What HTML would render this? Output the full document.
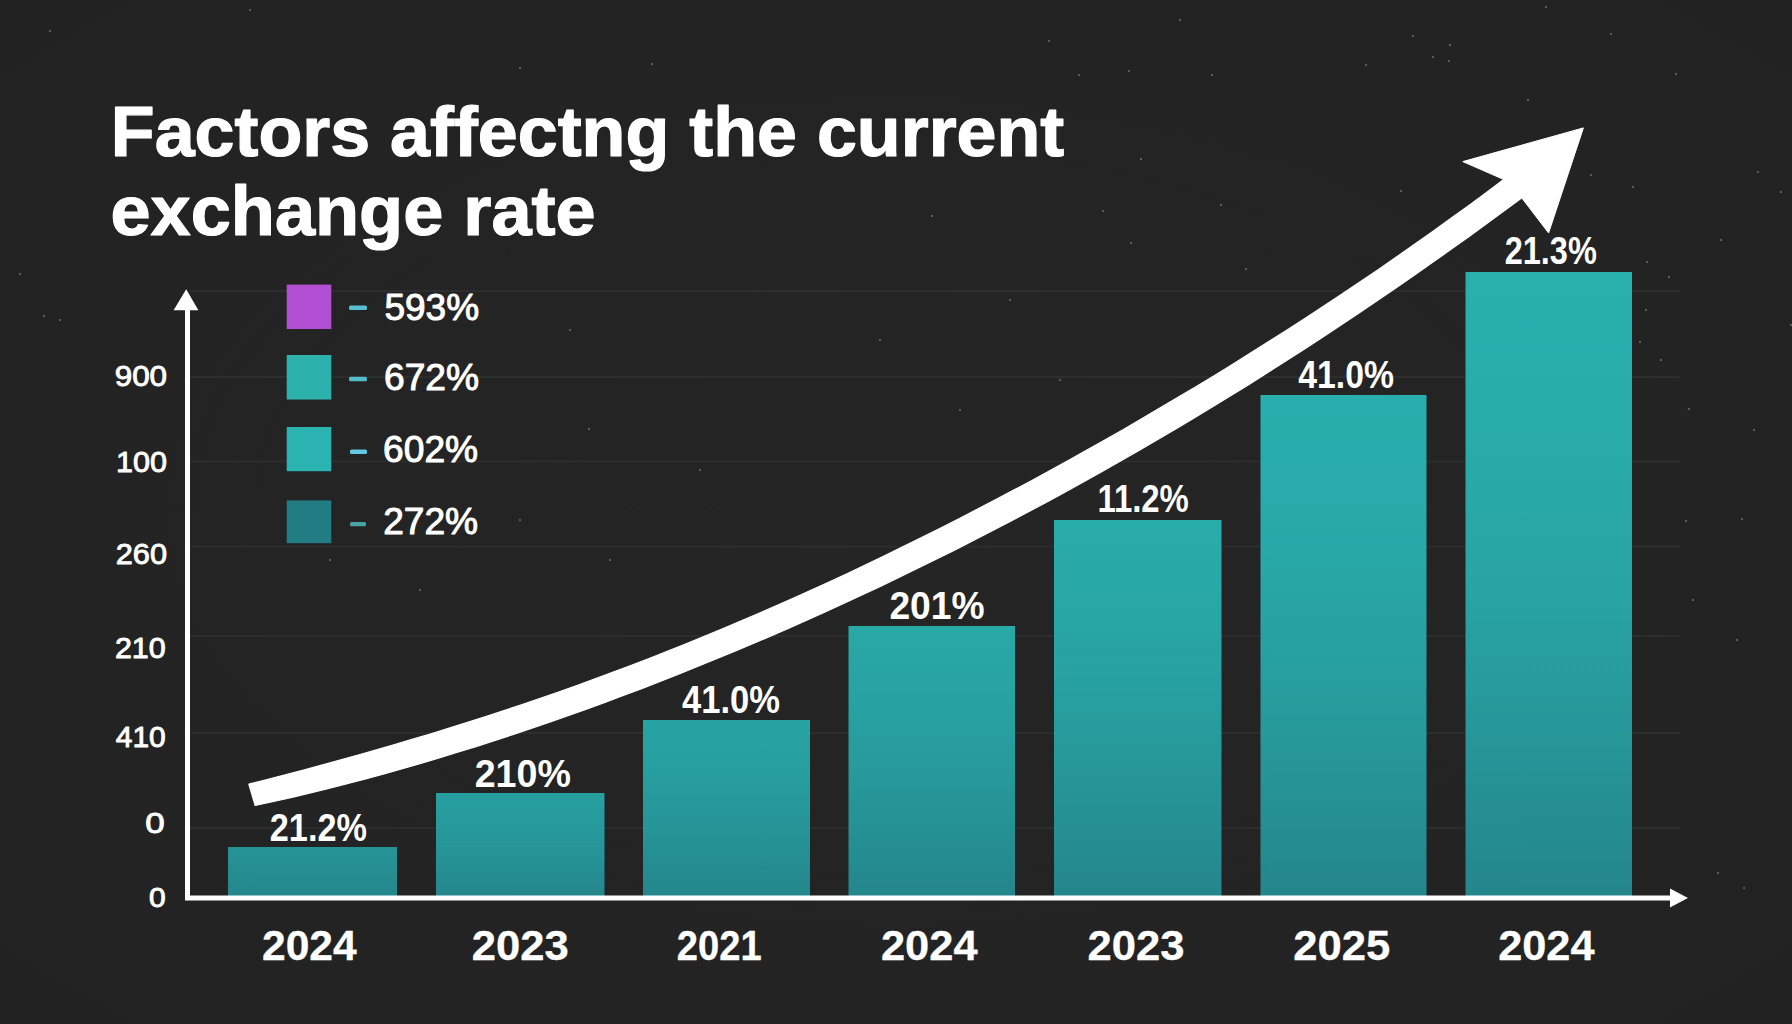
<!DOCTYPE html>
<html lang="en">
<head>
<meta charset="utf-8">
<title>Factors affecting the current exchange rate</title>
<style>
  html, body { margin: 0; padding: 0; background: #242424; }
  body { width: 1792px; height: 1024px; overflow: hidden; font-family: "Liberation Sans", sans-serif; }
  svg { display: block; position: absolute; left: 0; top: 0; }
  text { font-family: "Liberation Sans", sans-serif; fill: #ffffff; stroke-linejoin: round; }
  .grid line { stroke: #2c2d2d; stroke-width: 1.8; }
</style>
</head>
<body>
<svg width="1792" height="1024" viewBox="0 0 1792 1024">
  <defs>
    <radialGradient id="bg" cx="50%" cy="50%" r="75%">
      <stop offset="0" stop-color="#252525"/>
      <stop offset="1" stop-color="#222222"/>
    </radialGradient>
    <linearGradient id="g1" x1="0" y1="0" x2="0" y2="1"><stop offset="0" stop-color="#259396"/><stop offset="0.25" stop-color="#259194"/><stop offset="0.5" stop-color="#258e92"/><stop offset="0.75" stop-color="#258a8f"/><stop offset="1" stop-color="#24868c"/></linearGradient>
    <linearGradient id="g2" x1="0" y1="0" x2="0" y2="1"><stop offset="0" stop-color="#279fa0"/><stop offset="0.25" stop-color="#269b9d"/><stop offset="0.5" stop-color="#269699"/><stop offset="0.75" stop-color="#258f93"/><stop offset="1" stop-color="#24868c"/></linearGradient>
    <linearGradient id="g3" x1="0" y1="0" x2="0" y2="1"><stop offset="0" stop-color="#27a3a3"/><stop offset="0.25" stop-color="#279fa0"/><stop offset="0.5" stop-color="#26989b"/><stop offset="0.75" stop-color="#259094"/><stop offset="1" stop-color="#24868c"/></linearGradient>
    <linearGradient id="g4" x1="0" y1="0" x2="0" y2="1"><stop offset="0" stop-color="#28a8a6"/><stop offset="0.25" stop-color="#27a3a3"/><stop offset="0.5" stop-color="#279b9d"/><stop offset="0.75" stop-color="#259195"/><stop offset="1" stop-color="#24868c"/></linearGradient>
    <linearGradient id="g5" x1="0" y1="0" x2="0" y2="1"><stop offset="0" stop-color="#28acaa"/><stop offset="0.25" stop-color="#28a6a6"/><stop offset="0.5" stop-color="#279e9f"/><stop offset="0.75" stop-color="#269396"/><stop offset="1" stop-color="#24868c"/></linearGradient>
    <linearGradient id="g6" x1="0" y1="0" x2="0" y2="1"><stop offset="0" stop-color="#28aeac"/><stop offset="0.25" stop-color="#28aaa9"/><stop offset="0.5" stop-color="#27a1a2"/><stop offset="0.75" stop-color="#269597"/><stop offset="1" stop-color="#24868c"/></linearGradient>
    <linearGradient id="g7" x1="0" y1="0" x2="0" y2="1"><stop offset="0" stop-color="#28b0ad"/><stop offset="0.25" stop-color="#28acaa"/><stop offset="0.5" stop-color="#28a4a4"/><stop offset="0.75" stop-color="#269699"/><stop offset="1" stop-color="#24868c"/></linearGradient>
  </defs>
  <rect x="0" y="0" width="1792" height="1024" fill="url(#bg)"/>
  <g class="grid">
    <line x1="190" y1="291" x2="1680" y2="291"/>
    <line x1="190" y1="377" x2="1680" y2="377"/>
    <line x1="190" y1="461.5" x2="1680" y2="461.5"/>
    <line x1="190" y1="546.5" x2="1680" y2="546.5"/>
    <line x1="190" y1="636" x2="1680" y2="636"/>
    <line x1="190" y1="733" x2="1680" y2="733"/>
    <line x1="190" y1="828" x2="1680" y2="828"/>
  </g>
  <g fill="#6b6b6b"><circle cx="1546" cy="7" r="1.1"/><circle cx="1413" cy="36" r="1.1"/><circle cx="1611" cy="34" r="1.1"/><circle cx="1212" cy="75" r="1.1"/><circle cx="1366" cy="65" r="1.1"/><circle cx="1676" cy="74" r="1.1"/><circle cx="1528" cy="100" r="1.1"/><circle cx="1591" cy="175" r="1.1"/><circle cx="1633" cy="187" r="1.1"/><circle cx="1758" cy="172" r="1.1"/><circle cx="932" cy="216" r="1.1"/><circle cx="1103" cy="211" r="1.1"/><circle cx="1141" cy="159" r="1.1"/><circle cx="1131" cy="243" r="1.1"/><circle cx="1246" cy="269" r="1.1"/><circle cx="1221" cy="205" r="1.1"/><circle cx="1401" cy="191" r="1.1"/><circle cx="1721" cy="240" r="1.1"/><circle cx="1781" cy="192" r="1.1"/><circle cx="1646" cy="310" r="1.1"/><circle cx="1791" cy="325" r="1.1"/><circle cx="50" cy="31" r="1.1"/><circle cx="60" cy="320" r="1.1"/><circle cx="20" cy="274" r="1.1"/><circle cx="44" cy="316" r="1.1"/><circle cx="589" cy="429" r="1.1"/><circle cx="570" cy="330" r="1.1"/><circle cx="1049" cy="41" r="1.1"/><circle cx="1079" cy="75" r="1.1"/><circle cx="1129" cy="71" r="1.1"/><circle cx="1450" cy="45" r="1.1"/><circle cx="1449" cy="61" r="1.1"/><circle cx="1433" cy="57" r="1.1"/><circle cx="1742" cy="519" r="1.1"/><circle cx="1754" cy="430" r="1.1"/><circle cx="1686" cy="521" r="1.1"/><circle cx="1647" cy="262" r="1.1"/><circle cx="1669" cy="277" r="1.1"/><circle cx="1640" cy="342" r="1.1"/><circle cx="1661" cy="360" r="1.1"/><circle cx="1689" cy="409" r="1.1"/><circle cx="1693" cy="600" r="1.1"/><circle cx="1737" cy="640" r="1.1"/><circle cx="1718" cy="873" r="1.1"/><circle cx="1744" cy="888" r="1.1"/><circle cx="310" cy="505" r="1.1"/><circle cx="330" cy="560" r="1.1"/><circle cx="420" cy="590" r="1.1"/><circle cx="520" cy="520" r="1.1"/><circle cx="610" cy="560" r="1.1"/><circle cx="700" cy="470" r="1.1"/><circle cx="880" cy="340" r="1.1"/><circle cx="960" cy="410" r="1.1"/><circle cx="1010" cy="300" r="1.1"/><circle cx="1060" cy="380" r="1.1"/><circle cx="770" cy="150" r="1.1"/><circle cx="1180" cy="20" r="1.1"/><circle cx="250" cy="10" r="1.1"/><circle cx="652" cy="64" r="1.1"/><circle cx="520" cy="68" r="1.1"/></g>
  <g>
    <text x="110.80" y="156" font-size="70" font-weight="bold" textLength="953.48" lengthAdjust="spacingAndGlyphs" stroke="#fff" stroke-width="1.2">Factors affectng the current</text>
    <text x="110.48" y="235.3" font-size="70" font-weight="bold" textLength="485.18" lengthAdjust="spacingAndGlyphs" stroke="#fff" stroke-width="1.2">exchange rate</text>
  </g>
  <rect x="228" y="847" width="169" height="49" fill="url(#g1)"/>
  <rect x="436" y="793" width="168.5" height="103" fill="url(#g2)"/>
  <rect x="643" y="720" width="167" height="176" fill="url(#g3)"/>
  <rect x="848.5" y="626" width="166.5" height="270" fill="url(#g4)"/>
  <rect x="1054" y="520" width="167.5" height="376" fill="url(#g5)"/>
  <rect x="1260.5" y="395" width="166.0" height="501" fill="url(#g6)"/>
  <rect x="1465.5" y="272" width="166.5" height="624" fill="url(#g7)"/>
  <rect x="185" y="300" width="5" height="600" fill="#fff"/>
  <polygon points="186.2,289.3 173.6,310.3 198.4,310.3" fill="#fff"/>
  <rect x="185" y="895.5" width="1487" height="5" fill="#fff"/>
  <polygon points="1670,888.5 1688,898 1670,907.5" fill="#fff"/>
  <text x="114.68" y="386.4" font-size="30" textLength="52.40" lengthAdjust="spacingAndGlyphs" stroke="#fff" stroke-width="0.9">900</text>
  <text x="116.13" y="471.9" font-size="30" textLength="50.92" lengthAdjust="spacingAndGlyphs" stroke="#fff" stroke-width="0.9">100</text>
  <text x="115.81" y="564.4" font-size="30" textLength="51.24" lengthAdjust="spacingAndGlyphs" stroke="#fff" stroke-width="0.9">260</text>
  <text x="114.92" y="658.4" font-size="30" textLength="50.82" lengthAdjust="spacingAndGlyphs" stroke="#fff" stroke-width="0.9">210</text>
  <text x="115.76" y="747.4" font-size="30" textLength="49.96" lengthAdjust="spacingAndGlyphs" stroke="#fff" stroke-width="0.9">410</text>
  <text x="145.29" y="833.4" font-size="30" textLength="19.43" lengthAdjust="spacingAndGlyphs" stroke="#fff" stroke-width="0.9">0</text>
  <text x="149.08" y="907.4" font-size="28" textLength="16.64" lengthAdjust="spacingAndGlyphs" stroke="#fff" stroke-width="0.9">0</text>
  <text x="261.97" y="960" font-size="42" font-weight="bold" textLength="94.70" lengthAdjust="spacingAndGlyphs" stroke="#fff" stroke-width="0.3">2024</text>
  <text x="471.84" y="960" font-size="42" font-weight="bold" textLength="96.99" lengthAdjust="spacingAndGlyphs" stroke="#fff" stroke-width="0.3">2023</text>
  <text x="676.83" y="960" font-size="42" font-weight="bold" textLength="84.88" lengthAdjust="spacingAndGlyphs" stroke="#fff" stroke-width="0.3">2021</text>
  <text x="880.94" y="960" font-size="42" font-weight="bold" textLength="96.64" lengthAdjust="spacingAndGlyphs" stroke="#fff" stroke-width="0.3">2024</text>
  <text x="1087.64" y="960" font-size="42" font-weight="bold" textLength="96.99" lengthAdjust="spacingAndGlyphs" stroke="#fff" stroke-width="0.3">2023</text>
  <text x="1293.34" y="960" font-size="42" font-weight="bold" textLength="97.03" lengthAdjust="spacingAndGlyphs" stroke="#fff" stroke-width="0.3">2025</text>
  <text x="1498.15" y="960" font-size="42" font-weight="bold" textLength="96.44" lengthAdjust="spacingAndGlyphs" stroke="#fff" stroke-width="0.3">2024</text>
  <rect x="286.7" y="284.6" width="44.6" height="44.4" fill="#b14ed1"/>
  <rect x="286.7" y="355" width="44.6" height="44.5" fill="#2cb1ad"/>
  <rect x="286.7" y="427" width="44.6" height="44.2" fill="#2ab3b0"/>
  <rect x="286.7" y="500.4" width="44.6" height="42.8" fill="#227c83"/>
  <rect x="349" y="305.5" width="18" height="4.5" rx="1.5" fill="#56c0d2"/>
  <rect x="349" y="376.8" width="18" height="4.5" rx="1.5" fill="#52bccb"/>
  <rect x="350" y="449.4" width="17" height="4.6" rx="1.5" fill="#62c8e2"/>
  <rect x="350" y="522" width="16" height="4.2" rx="1.5" fill="#47a3a5"/>
  <text x="384.42" y="319.7" font-size="37" textLength="94.70" lengthAdjust="spacingAndGlyphs" stroke="#fff" stroke-width="1.0">593%</text>
  <text x="384.01" y="390.0" font-size="37" textLength="95.11" lengthAdjust="spacingAndGlyphs" stroke="#fff" stroke-width="1.0">672%</text>
  <text x="383.11" y="462.2" font-size="37" textLength="95.01" lengthAdjust="spacingAndGlyphs" stroke="#fff" stroke-width="1.0">602%</text>
  <text x="383.13" y="534.2" font-size="37" textLength="94.99" lengthAdjust="spacingAndGlyphs" stroke="#fff" stroke-width="1.0">272%</text>
  <path d="M248.8,784.2 L267.0,779.5 L285.2,774.8 L303.5,770.0 L321.7,765.1 L339.9,760.1 L358.1,755.0 L376.3,749.9 L394.6,744.6 L412.8,739.2 L431.0,733.7 L449.2,728.1 L467.4,722.4 L485.7,716.6 L503.9,710.6 L522.1,704.5 L540.3,698.3 L558.5,692.0 L576.8,685.5 L595.0,678.9 L613.2,672.1 L631.4,665.2 L649.6,658.2 L667.9,651.1 L686.1,643.8 L704.3,636.4 L722.5,628.8 L740.7,621.1 L759.0,613.3 L777.2,605.4 L795.4,597.3 L813.6,589.0 L831.8,580.7 L850.1,572.2 L868.3,563.6 L886.5,554.8 L904.7,545.9 L923.0,536.9 L941.2,527.8 L959.4,518.5 L977.6,509.1 L995.8,499.6 L1014.1,489.9 L1032.3,480.2 L1050.5,470.2 L1068.7,460.2 L1086.9,450.1 L1105.2,439.8 L1123.4,429.4 L1141.6,418.8 L1159.8,408.1 L1178.0,397.3 L1196.3,386.4 L1214.5,375.4 L1232.7,364.2 L1250.9,352.8 L1269.1,341.3 L1287.4,329.7 L1305.6,318.0 L1323.8,306.1 L1342.0,294.0 L1360.2,281.8 L1378.5,269.4 L1396.7,256.8 L1414.9,244.1 L1433.1,231.2 L1451.3,218.1 L1469.6,204.9 L1487.8,191.4 L1506.0,177.7 L1525.0,195.5 L1506.6,209.1 L1488.2,222.6 L1469.8,235.9 L1451.4,249.1 L1433.0,262.1 L1414.6,275.0 L1396.2,287.8 L1377.8,300.3 L1359.4,312.8 L1341.0,325.1 L1322.6,337.3 L1304.2,349.3 L1285.8,361.1 L1267.4,372.8 L1249.0,384.4 L1230.6,395.8 L1212.2,407.1 L1193.7,418.2 L1175.3,429.2 L1156.9,440.0 L1138.5,450.7 L1120.1,461.3 L1101.7,471.7 L1083.3,482.0 L1064.9,492.1 L1046.5,502.1 L1028.1,512.0 L1009.7,521.7 L991.3,531.3 L972.9,540.8 L954.5,550.1 L936.1,559.3 L917.7,568.3 L899.3,577.3 L880.9,586.1 L862.5,594.7 L844.1,603.3 L825.7,611.7 L807.3,619.9 L788.9,628.1 L770.5,636.1 L752.1,644.0 L733.7,651.7 L715.3,659.3 L696.9,666.8 L678.5,674.2 L660.1,681.5 L641.7,688.6 L623.3,695.5 L604.9,702.4 L586.5,709.1 L568.0,715.7 L549.6,722.1 L531.2,728.5 L512.8,734.6 L494.4,740.7 L476.0,746.6 L457.6,752.3 L439.2,757.9 L420.8,763.4 L402.4,768.7 L384.0,773.9 L365.6,778.9 L347.2,783.7 L328.8,788.4 L310.4,792.9 L292.0,797.3 L273.6,801.5 L255.2,805.5Z" fill="#fff" stroke="#fff" stroke-width="1.2" stroke-linejoin="round"/>
  <path d="M1462.8,161.6 L1583.4,127.9 L1548.6,233.0 L1522.0,198.2 L1503.3,179.3Z" fill="#fff" stroke="#fff" stroke-width="1" stroke-linejoin="round"/>
  <text x="269.81" y="841" font-size="38" font-weight="bold" textLength="97.09" lengthAdjust="spacingAndGlyphs">21.2%</text>
  <text x="474.69" y="787" font-size="38" font-weight="bold" textLength="96.30" lengthAdjust="spacingAndGlyphs">210%</text>
  <text x="681.98" y="713" font-size="38" font-weight="bold" textLength="97.93" lengthAdjust="spacingAndGlyphs">41.0%</text>
  <text x="889.41" y="618.6" font-size="38" font-weight="bold" textLength="95.17" lengthAdjust="spacingAndGlyphs">201%</text>
  <text x="1097.43" y="512" font-size="38" font-weight="bold" textLength="91.44" lengthAdjust="spacingAndGlyphs">11.2%</text>
  <text x="1298.29" y="388" font-size="38" font-weight="bold" textLength="95.60" lengthAdjust="spacingAndGlyphs">41.0%</text>
  <text x="1504.67" y="263.7" font-size="38" font-weight="bold" textLength="92.18" lengthAdjust="spacingAndGlyphs">21.3%</text>
</svg>
</body>
</html>
